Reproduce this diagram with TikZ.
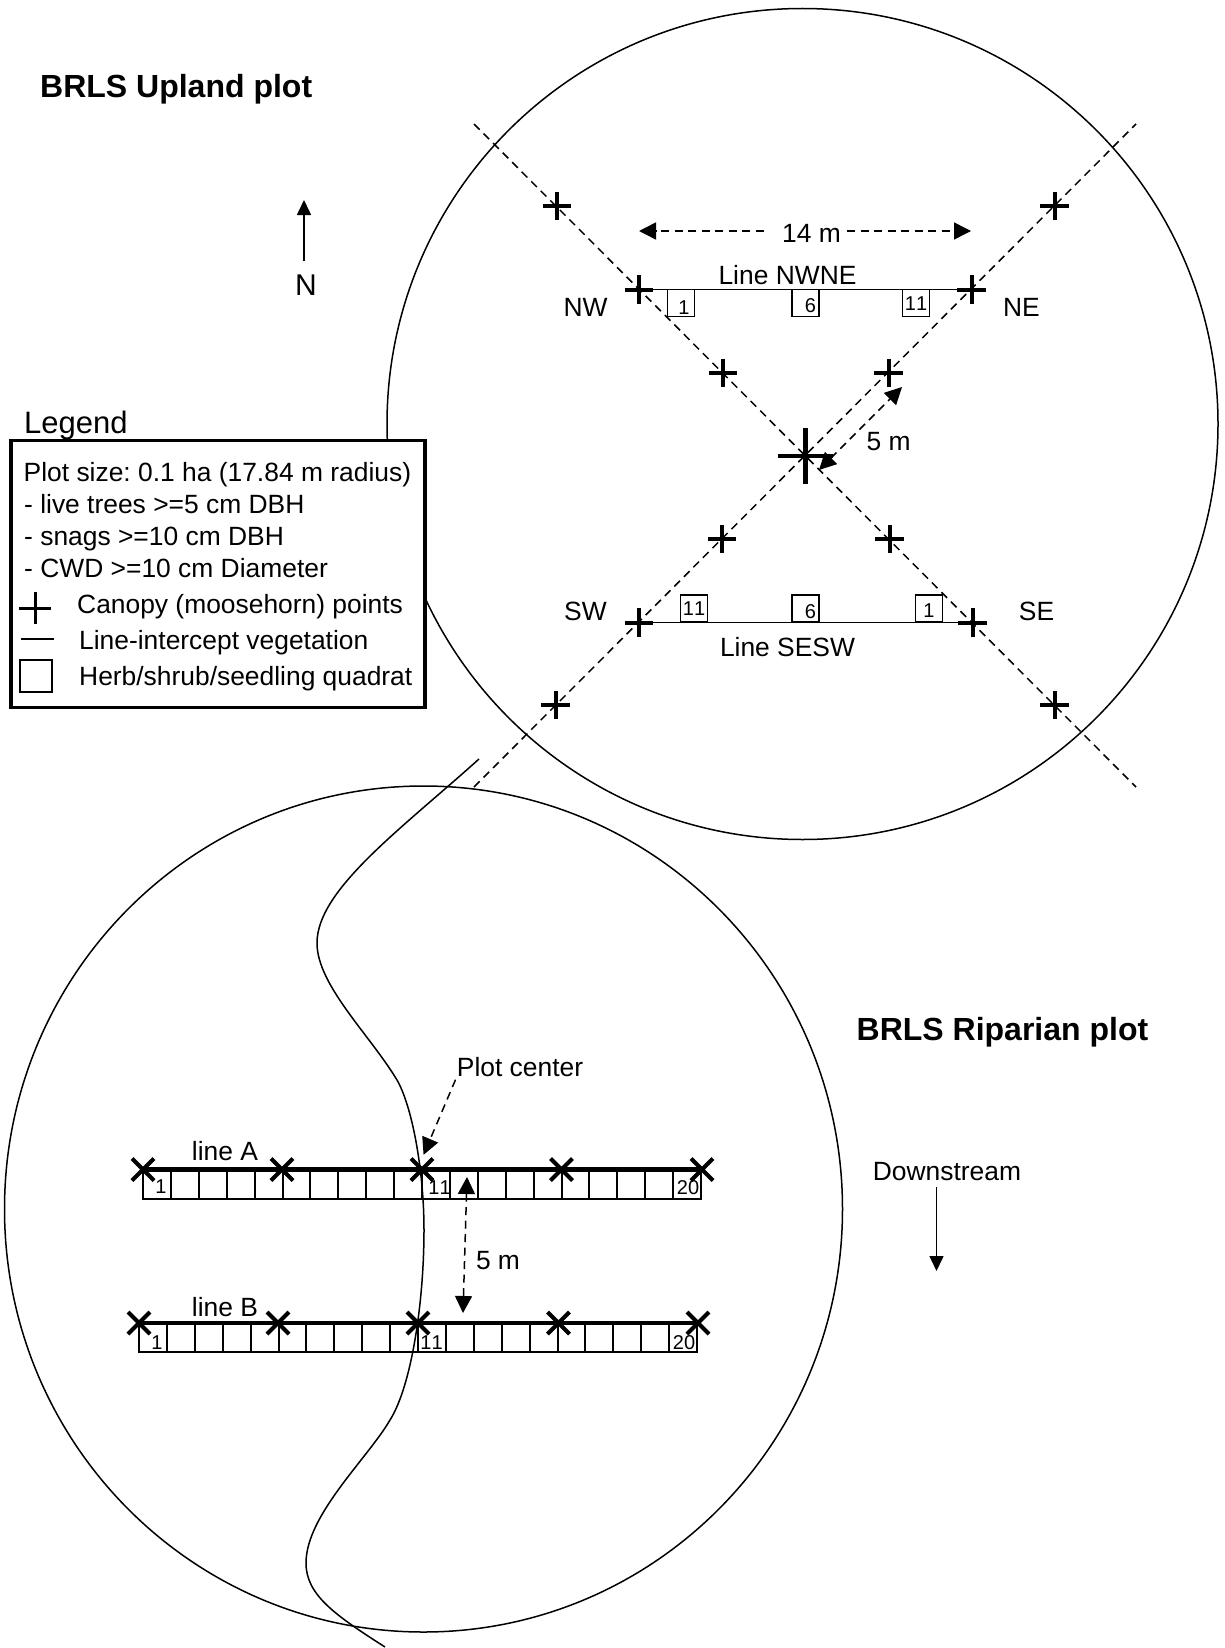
\documentclass[tikz,border=0pt]{standalone}
\usepackage{fontspec}
\setmainfont[Kerning=Off]{Liberation Sans}
\frenchspacing
\usetikzlibrary{shapes.misc,shapes.geometric,arrows.meta,calc}

\begin{document}
\begin{tikzpicture}[
        x=1pt, y=-1pt,
        plotline/.style={draw=black, line width=1.5pt},
        txt/.style={inner sep=0pt, font=\fontsize{26.4}{30}\selectfont},
        title/.style={inner sep=0pt, anchor=base west, font=\fontsize{32}{36}\selectfont\bfseries},
        legendtxt/.style={txt, anchor=base west},
        num/.style={inner sep=0pt, font=\fontsize{20}{22}\selectfont},
        pluspt/.style={cross out, rotate=45, draw=black, line width=4pt, minimum size=20pt, inner sep=0pt, outer sep=0pt},
        bigplus/.style={pluspt, line width=4.8pt, minimum size=39pt},
        xpt/.style={cross out, draw=black, line width=4pt, minimum size=22pt, inner sep=0pt, outer sep=0pt},
        quadrat/.style={rectangle, draw=black, line width=1.5pt, minimum size=27pt, inner sep=0pt, outer sep=0pt},
        cell/.style={rectangle, draw=black, line width=2pt, anchor=north west, minimum width=27.9pt, minimum height=29pt, inner sep=0pt, outer sep=0pt},
        diag/.style={draw=black, line width=1.5pt, dash pattern=on 8pt off 5.5pt},
        transect/.style={draw=black, line width=1.6pt},
        thickline/.style={draw=black, line width=4.2pt},
        dimarrow/.style={diag, >={Triangle[length=17pt,width=17pt]}, <->},
        ptrarrow/.style={diag, >={Triangle[length=17pt,width=17pt]}, ->},
        arrow/.style={draw=black, line width=1.5pt, >={Triangle[length=15pt,width=14pt]}, ->},
      ]
      \useasboundingbox (0,0) rectangle (1225,1648);

      % Upland plot
      \node [plotline, circle, minimum size=831pt, inner sep=0pt] (upland) at (802.5,424) {};
      \node [title] (uptitle) at (40,98) {BRLS Upland plot};

      % Diagonals
      \coordinate (dnw) at (474,124);
      \coordinate (dne) at (1136,124);
      \coordinate (dsw) at (474,787);
      \coordinate (dse) at (1136,787);
      \draw [diag] (dnw) -- (dse);
      \draw [diag] (dsw) -- (dne);

      \node [bigplus] (centre) at (805.5,456) {};
      \foreach \name/\px/\py in {nwo/557/206, nw/639/289.5, nwi/723/373, neo/1054.5/206, ne/971.5/289.5, nei/888.5/373,
                                 swo/555.5/705, sw/639/622.5, swi/722/539, seo/1054.5/705, se/972.5/622.5, sei/889.5/539} {
        \node [pluspt] (\name) at (\px,\py) {};
      }
      \draw [transect] (nw.center) -- (ne.center);
      \draw [transect] (sw.center) -- (se.center);

      % Quadrats on the two lines
      \foreach \px/\lab in {681/1, 805.5/6, 916/11} {
        \node [quadrat] (qn\lab) at (\px,303) {};
      }
      \foreach \px/\lab in {694/11, 805.5/6, 929/1} {
        \node [quadrat] (qs\lab) at (\px,608.5) {};
      }
      \foreach \name/\px/\py/\lab in {nn1/684/308/1, nn6/810.5/306/6, nn11/916/304/11,
                                      ns11/694/609/11, ns6/810.5/612/6, ns1/929/611/1} {
        \node [num] (\name) at (\px,\py) {\lab};
      }

      \node [txt] (lnwne) at (787.5,275) {Line NWNE};
      \node [txt] (lsesw) at (787.5,647) {Line SESW};
      \node [txt] (lnw) at (585.5,307) {NW};
      \node [txt] (lne) at (1021.5,307) {NE};
      \node [txt] (lsw) at (585.5,611) {SW};
      \node [txt] (lse) at (1036.5,611) {SE};

      % Dimensions
      \node [txt] (len14) at (811.5,233) {14 m};
      \coordinate (tipw) at (639,231);
      \coordinate (tipe) at (971,231);
      \draw [ptrarrow, shorten <=18pt] (len14.center -| len14.west) ++(0,-2) -- (tipw);
      \draw [ptrarrow, shorten <=6pt] (len14.east |- tipe) -- (tipe);
      \node [txt] (len5) at (888.5,442) {5 m};
      \coordinate (tipc) at (819,470);
      \coordinate (tipi) at (902,387);
      \draw [dimarrow] (tipc) -- (tipi);

      % North
      \node [txt, font=\fontsize{30}{32}\selectfont] (lnorth) at (306,285) {N};
      \coordinate (ntip) at (304,200);
      \draw [arrow] (ntip |- lnorth.north) ++(0,-13) -- (ntip);

      % Riparian plot
      \node [plotline, ellipse, minimum width=838pt, minimum height=846pt, inner sep=0pt] (riparian) at (423.5,1209) {};
      \node [title] (riptitle) at (856.5,1040.5) {BRLS Riparian plot};

      % Stream
      \draw [plotline] (479,759) .. controls (400,830) and (317,890) .. (317,943)
        .. controls (317,985) and (370,1035) .. (397,1080)
        .. controls (412,1106) and (424,1170) .. (424,1230)
        .. controls (424,1300) and (412,1385) .. (390,1420)
        .. controls (368,1458) and (306,1515) .. (306,1563)
        .. controls (306,1595) and (335,1615) .. (385,1647);

      % Line A and line B
      \foreach \i in {0,...,19} {
        \node [cell] (ca\i) at ({143+27.9*\i},1169.5) {};
        \node [cell] (cb\i) at ({139+27.9*\i},1323) {};
      }
      \foreach \i/\px in {1/143, 2/282, 3/422, 4/561.5, 5/702} {
        \node [xpt] (xa\i) at (\px,1169.5) {};
      }
      \foreach \i/\px in {1/139, 2/278, 3/418, 4/558.5, 5/698} {
        \node [xpt] (xb\i) at (\px,1323) {};
      }
      \draw [thickline] (xa1.center) -- (xa5.center);
      \draw [thickline] (xb1.center) -- (xb5.center);

      \foreach \name/\px/\py/\lab in {na1/161/1187/1, na11/439.5/1188/11, na20/688/1188/20,
                                      nb1/157/1343/1, nb11/431.5/1343/11, nb20/684/1343/20} {
        \node [num] (\name) at (\px,\py) {\lab};
      }
      \node [txt] (linea) at (225,1151) {line A};
      \node [txt] (lineb) at (225,1307) {line B};

      \node [txt] (lcentre) at (520,1067) {Plot center};
      \draw [ptrarrow, shorten <=3pt, shorten >=4pt] (lcentre.south west) -- (xa3.north);

      \coordinate (tipa) at (467,1177);
      \coordinate (tipb) at (463,1313);
      \draw [dimarrow] (tipa) -- (tipb);
      \node [txt] (len5b) at (498,1261) {5 m};

      \node [txt] (ldown) at (947,1172) {Downstream};
      \coordinate (dtip) at (936.5,1271);
      \draw [arrow] (dtip |- ldown.south) ++(0,6) -- (dtip);

      % Legend
      \node [txt, anchor=base west, font=\fontsize{31}{34}\selectfont] (leghead) at (24,433) {Legend};
      \node [rectangle, draw=black, fill=white, line width=3.6pt, minimum width=414pt, minimum height=267pt, inner sep=0pt] (legend) at (218,574) {};
      \node [legendtxt] (leg1) at (23.5,481) {Plot size: 0.1 ha (17.84 m radius)};
      \node [legendtxt] (leg2) at (24,513) {- live trees >=5 cm DBH};
      \node [legendtxt] (leg3) at (24,545) {- snags >=10 cm DBH};
      \node [legendtxt] (leg4) at (24,577) {- CWD >=10 cm Diameter};
      \node [legendtxt] (leg5) at (77,613) {Canopy (moosehorn) points};
      \node [legendtxt] (leg6) at (79,649) {Line-intercept vegetation};
      \node [legendtxt] (leg7) at (79,685) {Herb/shrub/seedling quadrat};
      \node [pluspt, line width=3pt, minimum size=23pt] (legplus) at (35,608) {};
      \coordinate (legl) at (21,639);
      \coordinate (legr) at (54,639);
      \draw [transect] (legl) -- (legr);
      \node [quadrat, line width=1.7pt, minimum size=31.5pt] (legquad) at (36,676) {};
    \end{tikzpicture}
\end{document}
